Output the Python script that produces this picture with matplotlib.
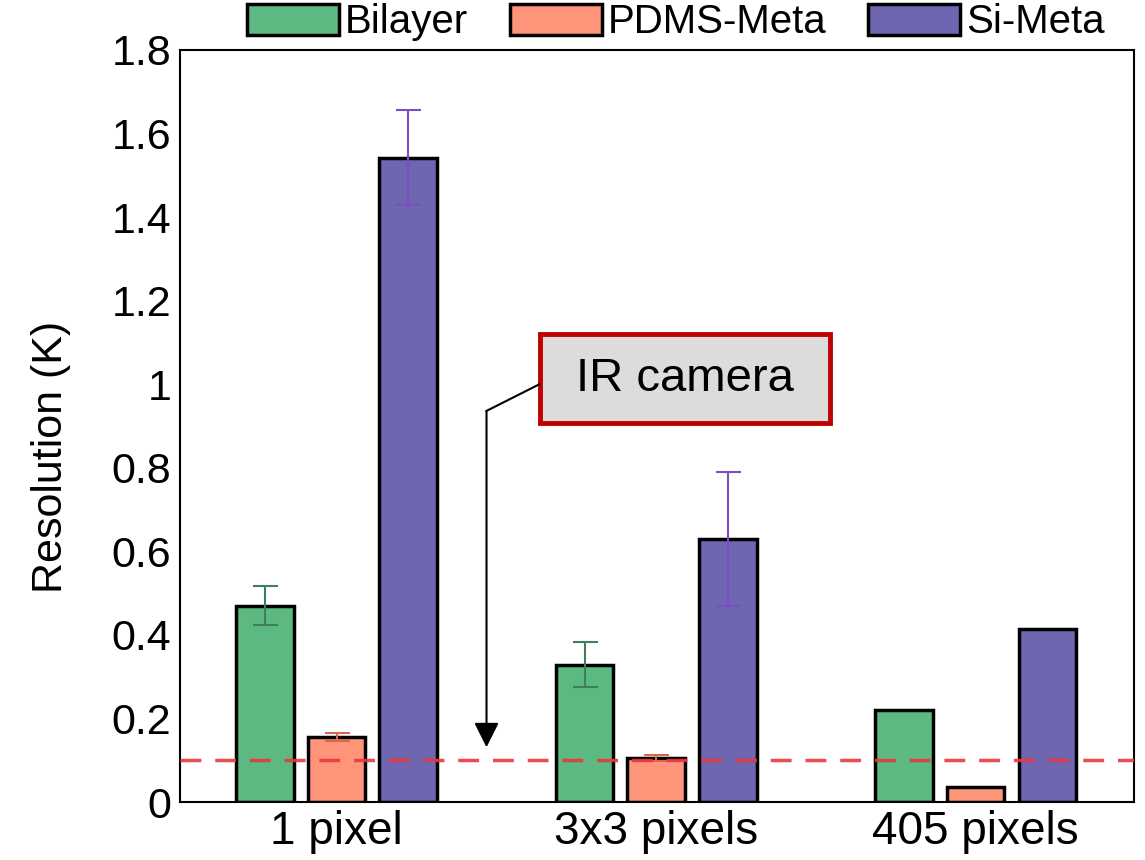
import numpy as np
import matplotlib
matplotlib.use("Agg")
import matplotlib.pyplot as plt
from matplotlib.patches import Rectangle

plt.rcParams['font.family'] = ['Liberation Sans', 'DejaVu Sans']

groups = ['1 pixel', '3x3 pixels', '405 pixels']
series = ['Bilayer', 'PDMS-Meta', 'Si-Meta']
bilayer = [0.470, 0.329, 0.220]
bilayer_err = [0.047, 0.054, 0.0]
pdms = [0.155, 0.105, 0.036]
pdms_err = [0.010, 0.007, 0.0]
si = [1.542, 0.630, 0.415]
si_err = [0.113, 0.160, 0.0]
ir_camera = 0.10

colors = ['#5cb982', '#fe9479', '#6e66b1']
ecolors = ['#3b7f5c', '#d8674f', '#7a4fc4']

fig = plt.figure(figsize=(11.45, 8.6), dpi=100)
ax = fig.add_axes([0.157, 0.0674, 0.833, 0.8746])

x = np.arange(len(groups))
w = 0.18
step = 0.224
for k, (vals, errs) in enumerate([(bilayer, bilayer_err), (pdms, pdms_err), (si, si_err)]):
    pos = x + (k - 1) * step
    ax.bar(pos, vals, w, color=colors[k], edgecolor='black', linewidth=2.5,
           label=series[k], zorder=2)
    e = np.array(errs)
    m = e > 0
    ax.errorbar(pos[m], np.array(vals)[m], yerr=e[m], fmt='none', ecolor=ecolors[k],
                elinewidth=1.5, capsize=9, capthick=1.5, zorder=3)

ax.axhline(ir_camera, color='#e8383c', linestyle=(0, (6, 4)), linewidth=2.5, alpha=0.9, zorder=4)

# annotation box + arrow
ax.add_patch(Rectangle((0.635, 0.907), 0.908, 0.212, facecolor='#dcdcdc',
                       edgecolor='#c00000', linewidth=3.5, zorder=5))
ax.text(1.089, 1.013, 'IR camera', fontsize=34, ha='center', va='center', zorder=6)
ax.plot([0.635, 0.469], [1.0, 0.936], color='black', linewidth=1.5, zorder=5)
ax.annotate('', xy=(0.469, 0.131), xytext=(0.469, 0.936),
            arrowprops=dict(arrowstyle='-|>,head_length=0.8,head_width=0.4',
                            mutation_scale=19, color='black', linewidth=1.5,
                            shrinkA=0, shrinkB=0), zorder=5)

ax.set_xlim(-0.491, 2.494)
ax.set_ylim(0, 1.8)
ax.set_xticks(x)
ax.set_xticklabels(groups, fontsize=33)
ax.set_yticks(np.arange(0, 1.81, 0.2))
ax.set_yticklabels(['0', '0.2', '0.4', '0.6', '0.8', '1', '1.2', '1.4', '1.6', '1.8'], fontsize=31)
ax.tick_params(length=0, pad=6)
ax.set_ylabel('Resolution (K)', fontsize=31)
ax.yaxis.set_label_coords(-0.114, 0.459)
for s in ax.spines.values():
    s.set_linewidth(1.5)

leg = ax.legend(loc='lower center', bbox_to_anchor=(0.52, 0.99), ncol=3, frameon=False,
                handlelength=2.28, handleheight=0.8, handletextpad=0.15,
                columnspacing=1.04, borderaxespad=0,
                prop={'size': 29})

fig.savefig('out.png', dpi=100)
